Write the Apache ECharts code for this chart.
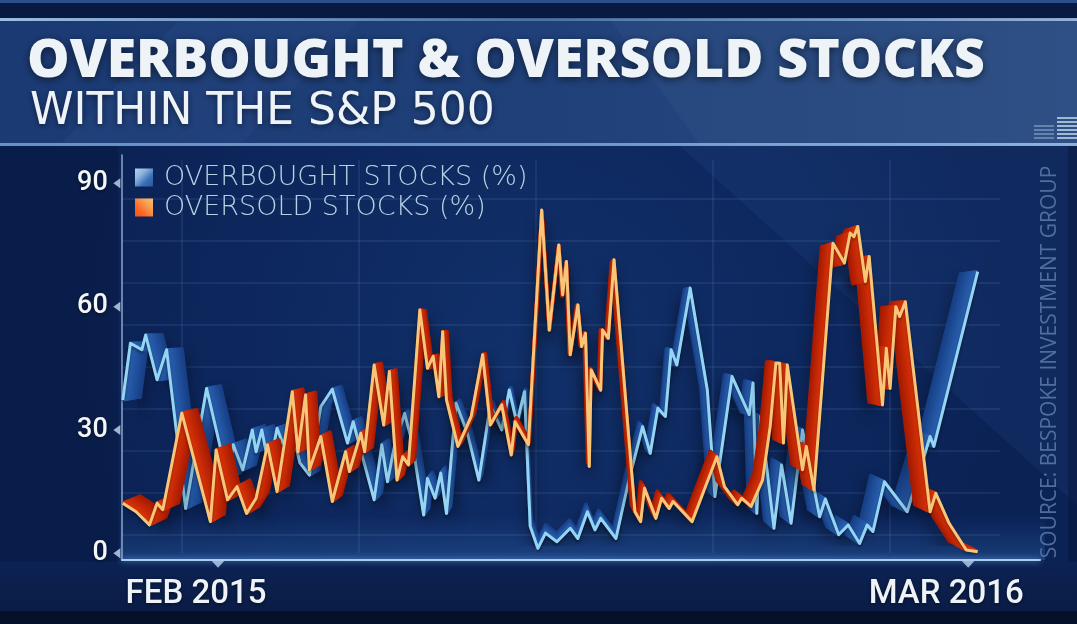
<!DOCTYPE html>
<html><head><meta charset="utf-8">
<script src="https://cdn.jsdelivr.net/npm/echarts@6/dist/echarts.min.js"></script>
<style>html,body{margin:0;padding:0;background:#0c2456;}#c{width:1077px;height:624px;}</style>
</head><body><div id="c"></div>
<script>
// ---------------- DATA ----------------
const titleText = 'OVERBOUGHT & OVERSOLD STOCKS';
const subtitleText = 'WITHIN THE S&P 500';
const seriesNames = ['OVERBOUGHT STOCKS (%)', 'OVERSOLD STOCKS (%)'];
const sourceText = 'SOURCE: BESPOKE INVESTMENT GROUP';
// x = days from 1 Feb 2015
const xTickDays = [0, 394];
const xTickLabels = ['FEB 2015', 'MAR 2016'];
const yTicks = [0, 30, 60, 90];

const obDays = [-50,-46,-40,-38,-32,-27,-17,-6,5,8,13,18,20,23,27,31,34,39,43,48,54,60,68,71,75,82,86,89,93,98,102,108,110,114,117,120,125,131,137,143,149,153,157,161,164,168,172,178,185,189,194,198,201,209,216,223,227,231,235,238,241,248,257,261,270,279,281,283,285,292,296,301,307,316,319,326,331,337,341,344,350,362,374,376,399];
const obVals = [37.3,51.1,49.5,53.1,42.2,49.5,10.9,40.1,18.2,26.4,20.3,30,24.7,30,20.7,30.4,26.8,30,22,19,35.7,39.9,26.8,32,25,13,26.4,17.4,26.8,34,27,9.3,18.2,13.4,19.5,9.7,36.5,29.2,17.8,36,30,39.7,31.6,39.3,6.5,1.2,4.9,2.8,6.1,3.6,10.1,5.7,8.5,3.6,18.2,30.8,24.3,35.3,33.3,49.5,45.8,64.5,39.7,13.8,43,33.7,41.4,9.7,33.3,6.1,21.5,7.3,30,8.9,13.2,4.5,6.9,2.4,6.9,5.3,17.4,10.1,28.4,26,68.5];

const osDays = [-50,-43,-36,-32,-29,-19,-4,-1,5,10,15,20,26,31,39,42,46,48,54,60,67,69,75,77,82,87,90,94,97,100,106,110,113,116,118,120,126,133,139,143,149,154,156,163,170,174,179,181,183,185,189,191,193,195,196,201,202,205,208,219,222,224,230,233,237,239,249,262,266,273,275,280,286,290,293,295,297,299,307,309,313,323,329,332,334,336,340,342,349,351,353,356,358,361,374,377,384,393,399];
const osVals = [12.2,10.1,6.9,12.2,10.6,34.1,7.7,25.1,13,16.2,9.7,13.4,26.4,15,39.3,24.7,38.5,20.3,28.4,12.6,24.7,19.9,29.2,24.7,45.8,31.2,44.2,17.8,23.5,21.5,59.2,45,47.9,38.1,53.9,37.3,26,33.3,48.3,31.2,36.1,23.9,32,26.4,83.5,54.3,75,62.9,71,48.3,60.4,50.3,53.5,21.1,44.6,39.7,54.3,52.3,71.4,10.1,7.7,15.8,8.5,13.4,10.9,12.6,7.7,23.5,16.2,11.8,13.4,11.4,17.8,30.8,46.2,46.2,26.8,45.8,20.3,26,15.4,75.4,70.6,77.9,77,79.5,66.1,72.2,36.1,49.9,40.1,60,57.6,61.2,10.1,14.6,7.3,0.8,0.4];

// ---------------- LAYOUT ----------------
const W = 1077, H = 624;
const X_MIN = -50, X_MAX = 399, Y_MIN = 0, Y_MAX = 90;
const PX_PER_DAY = 1.904, FEB_PX = 218;
const plot = {l: FEB_PX + X_MIN * PX_PER_DAY, r: FEB_PX + X_MAX * PX_PER_DAY, t: 183.3, b: 553.3};
const V = {x: 550, y: 330};       // vanishing point of the 3D extrusion
const DEPTH = 0.04, LAYERS = 12;

const obData = obDays.map((d, i) => [d, obVals[i]]);
const osData = osDays.map((d, i) => [d, osVals[i]]);

const grids = [], xAxes = [], yAxes = [], series = [];
function addGrid(s) {
  const l = V.x + (plot.l - V.x) * s, r = V.x + (plot.r - V.x) * s;
  const t = V.y + (plot.t - V.y) * s, b = V.y + (plot.b - V.y) * s;
  grids.push({left: l, top: t, width: r - l, height: b - t, containLabel: false});
  const idx = grids.length - 1;
  xAxes.push({type: 'value', gridIndex: idx, min: X_MIN, max: X_MAX, show: false});
  yAxes.push({type: 'value', gridIndex: idx, min: Y_MIN, max: Y_MAX, show: false});
  return idx;
}
function lerpColor(a, b, t) {
  const pa = [1,3,5].map(i => parseInt(a.substr(i,2),16));
  const pb = [1,3,5].map(i => parseInt(b.substr(i,2),16));
  return 'rgb(' + pa.map((v,i) => Math.round(v + (pb[i]-v)*t)).join(',') + ')';
}
const hGrad = (c0, c1, c2) => new echarts.graphic.LinearGradient(0, 0, 1, 0, [
  {offset: 0, color: c0}, {offset: 0.5, color: c1}, {offset: 1, color: c2}], true);

// main grid (front face)
const main = addGrid(1);
Object.assign(xAxes[main], {
  show: true,
  axisLine: {show: false}, axisTick: {show: false}, splitLine: {show: false},
  axisLabel: {
    show: true, customValues: xTickDays, margin: 25,
    formatter: v => xTickLabels[xTickDays.indexOf(v)],
    color: '#eef3f7', fontSize: 33, fontWeight: 500, fontFamily: 'Roboto',
    padding: [0, 44, 0, 0],
    textShadowColor: 'rgba(0,0,0,0.5)', textShadowBlur: 4, textShadowOffsetY: 1
  }
});
Object.assign(yAxes[main], {
  show: true,
  axisLine: {show: false}, axisTick: {show: false}, splitLine: {show: false},
  axisLabel: {
    show: true, customValues: yTicks, margin: 15,
    color: '#f4f7fa', fontSize: 27, fontWeight: 500, fontFamily: 'Roboto',
    textShadowColor: 'rgba(0,0,0,0.5)', textShadowBlur: 4, textShadowOffsetY: 1
  }
});

function addRibbon(data, front, back, z) {
  for (let k = LAYERS; k >= 1; k--) {
    const s = 1 - DEPTH * k / LAYERS;
    const gi = addGrid(s);
    const t = k / LAYERS;
    const ls = {width: 3.4, color: lerpColor(front, back, t), join: 'round', cap: 'round'};
    if (k === LAYERS) {
      Object.assign(ls, {shadowColor: 'rgba(0,0,0,0.75)', shadowBlur: 14, shadowOffsetY: 9, width: 4});
    }
    series.push({type: 'line', xAxisIndex: gi, yAxisIndex: gi, data: data, symbol: 'none',
      lineStyle: ls, z: z, silent: true, animation: false});
  }
}

// blue ribbon + front line
addRibbon(obData, '#2a62b2', '#173f86', 2);
series.push({name: seriesNames[0], type: 'line', xAxisIndex: main, yAxisIndex: main, data: obData,
  symbol: 'none', z: 3, silent: true, animation: false,
  lineStyle: {width: 3, join: 'round', color: hGrad('#52b4f2', '#5cbcf3', '#94d4f4'),
    shadowColor: 'rgba(0,0,0,0.45)', shadowBlur: 3, shadowOffsetY: 2}});
// red ribbon + front orange line
addRibbon(osData, '#dc3408', '#a51a02', 4);
series.push({name: seriesNames[1], type: 'line', xAxisIndex: main, yAxisIndex: main, data: osData,
  symbol: 'none', z: 5, silent: true, animation: false,
  lineStyle: {width: 3, join: 'round', color: hGrad('#f5961a', '#f6a62c', '#f9c679'),
    shadowColor: 'rgba(0,0,0,0.35)', shadowBlur: 3, shadowOffsetY: 2}});

// tick triangles on the axes
series.push({type: 'scatter', xAxisIndex: main, yAxisIndex: main, clip: false, silent: true, animation: false,
  data: yTicks.map(v => [X_MIN, v]), symbol: 'triangle', symbolSize: [10, 7], symbolRotate: 90,
  symbolOffset: [-6, 0], itemStyle: {color: '#c5dbee'}, z: 6});
series.push({type: 'scatter', xAxisIndex: main, yAxisIndex: main, clip: false, silent: true, animation: false,
  data: xTickDays.map(d => [d, Y_MIN]), symbol: 'triangle', symbolSize: [13, 7], symbolRotate: 180,
  symbolOffset: [0, 11], itemStyle: {color: '#b8d2ec'}, z: 6});

// frame grid (axis lines)
grids.push({left: 122, top: 155, width: 1040 - 122, height: 560 - 155});
let gi = grids.length - 1;
xAxes.push({type: 'value', gridIndex: gi, min: 0, max: 1, axisLabel: {show: false}, axisTick: {show: false},
  splitLine: {show: false},
  axisLine: {show: true, lineStyle: {color: '#a9cdef', width: 2, shadowColor: 'rgba(120,180,255,0.9)', shadowBlur: 6}}});
yAxes.push({type: 'value', gridIndex: gi, min: 0, max: 1, axisLabel: {show: false}, axisTick: {show: false},
  splitLine: {show: false}, axisLine: {show: true, lineStyle: {color: '#8ea6c6', width: 1.5}}});

// vertical grid lines
grids.push({left: 5, top: 160, width: 1062, height: 553 - 160});
gi = grids.length - 1;
xAxes.push({type: 'value', gridIndex: gi, min: 0, max: 6, interval: 1, axisLabel: {show: false},
  axisTick: {show: false}, axisLine: {show: false},
  splitLine: {show: true, showMinLine: false, showMaxLine: false, lineStyle: {color: 'rgba(120,160,220,0.16)', width: 1.5}}});
yAxes.push({type: 'value', gridIndex: gi, min: 0, max: 1, show: false});

// horizontal grid lines
grids.push({left: 122, top: 156.6, width: 1000 - 122, height: 577 - 156.6});
gi = grids.length - 1;
xAxes.push({type: 'value', gridIndex: gi, min: 0, max: 1, show: false});
yAxes.push({type: 'value', gridIndex: gi, min: 0, max: 10, interval: 1, axisLabel: {show: false},
  axisTick: {show: false}, axisLine: {show: false},
  splitLine: {show: true, showMinLine: false, showMaxLine: false, lineStyle: {color: 'rgba(120,160,220,0.16)', width: 1.5}}});

// ---------------- DECOR ----------------
const LG = (x0, y0, x1, y1, stops) => new echarts.graphic.LinearGradient(x0, y0, x1, y1,
  stops.map((c, i) => ({offset: i / (stops.length - 1), color: c})));
const graphicEls = [
  {type: 'rect', z: -100, silent: true, shape: {x: 0, y: 0, width: W, height: H},
    style: {fill: new echarts.graphic.RadialGradient(0.5, 0.55, 0.75, [
      {offset: 0, color: '#11306a'}, {offset: 1, color: '#0b2255'}])}},
  {type: 'rect', z: -99.5, silent: true, shape: {x: 0, y: 146, width: 118, height: 440},
    style: {fill: 'rgba(5,15,45,0.25)'}},
  {type: 'polygon', z: -99, silent: true, shape: {points: [[680, 146], [1077, 146], [1077, 505]]},
    style: {fill: 'rgba(70,120,200,0.10)'}},
  {type: 'rect', z: -98, silent: true, shape: {x: 120, y: 515, width: 925, height: 45},
    style: {fill: LG(0, 0, 0, 1, ['rgba(60,120,200,0)', 'rgba(60,130,210,0.28)'])}},
  {type: 'rect', z: -98, silent: true, shape: {x: 1068, y: 146, width: 9, height: 440},
    style: {fill: 'rgba(5,15,45,0.35)'}},
  {type: 'rect', z: -97, silent: true, shape: {x: 0, y: 562, width: W, height: 62},
    style: {fill: LG(0, 0, 0, 1, ['#0c2254', '#0b1f4b', '#091a43'])}},
  {type: 'rect', z: -96, silent: true, shape: {x: 0, y: 611, width: W, height: 13}, style: {fill: '#051029'}},
  // top band
  {type: 'rect', z: -96, silent: true, shape: {x: 0, y: 0, width: W, height: 19}, style: {fill: '#081a42'}},
  {type: 'rect', z: -95, silent: true, shape: {x: 0, y: 0, width: W, height: 3}, style: {fill: '#2a4f8a'}},
  // title panel
  {type: 'rect', z: -95, silent: true, shape: {x: 0, y: 19, width: W, height: 126},
    style: {fill: LG(0, 0, 1, 0, ['#1b3a74', '#1f4079', '#2a4b80'])}},
  {type: 'polygon', z: -94, silent: true, shape: {points: [[180, 19], [360, 19], [240, 145], [60, 145]]},
    style: {fill: 'rgba(120,160,220,0.05)'}},
  {type: 'polygon', z: -94, silent: true, shape: {points: [[610, 19], [1077, 19], [1077, 145], [700, 145]]},
    style: {fill: 'rgba(140,170,220,0.06)'}},
  {type: 'rect', z: -93, silent: true, shape: {x: 0, y: 18, width: W, height: 3},
    style: {fill: LG(0, 0, 1, 0, ['rgba(170,205,240,0.9)', 'rgba(120,165,215,0.5)', 'rgba(170,205,240,0.8)'])}},
  {type: 'rect', z: -93, silent: true, shape: {x: 0, y: 143, width: W, height: 3},
    style: {fill: LG(0, 0, 1, 0, ['rgba(110,155,210,0.9)', 'rgba(130,170,220,0.8)', 'rgba(150,190,230,0.9)'])}},
  // small icon at right of title panel
  ...[0, 1, 2, 3, 4, 5].map(i => ({type: 'rect', z: -92, silent: true,
    shape: {x: 1057, y: 117 + i * 4, width: 20, height: 2}, style: {fill: 'rgba(200,220,240,0.75)'}})),
  ...[0, 1, 2, 3].map(i => ({type: 'rect', z: -92, silent: true,
    shape: {x: 1034, y: 125 + i * 4, width: 20, height: 2}, style: {fill: 'rgba(170,195,225,0.45)'}})),
  {type: 'text', z: 10, silent: true, x: 1050, y: 362, rotation: Math.PI / 2,
    style: {text: sourceText, fill: '#4f6e9e', font: '400 21px "Open Sans"', align: 'center', verticalAlign: 'middle'}}
];

const option = {
  backgroundColor: '#0c2456',
  animation: false,
  title: [
    {text: titleText, left: 27, top: 35, padding: 0,
      textStyle: {color: '#eef3f8', fontSize: 53.5, fontWeight: 800, fontFamily: 'Open Sans',
        textShadowColor: 'rgba(0,0,0,0.55)', textShadowBlur: 8, textShadowOffsetY: 2}},
    {text: subtitleText, left: 30, top: 91, padding: 0,
      textStyle: {color: '#eef3f8', fontSize: 44, fontWeight: 400, fontFamily: 'DejaVu Sans',
        textShadowColor: 'rgba(0,0,0,0.5)', textShadowBlur: 6, textShadowOffsetY: 2}}
  ],
  legend: {
    orient: 'vertical', left: 135, top: 164, padding: 0, itemWidth: 18, itemHeight: 18, itemGap: 3,
    icon: 'rect', selectedMode: false,
    textStyle: {color: '#b8d0e3', fontSize: 27, fontWeight: 200, fontFamily: 'DejaVu Sans', padding: [0, 0, 0, 6]},
    data: [
      {name: seriesNames[0], itemStyle: {color: LG(0, 0, 1, 1, ['#b7d3ee', '#8db4de', '#3a70b8', '#24589f'])}},
      {name: seriesNames[1], itemStyle: {color: LG(1, 0, 0, 1, ['#f8c070', '#f6a050', '#ff6a28', '#f5501c'])}}
    ]
  },
  grid: grids, xAxis: xAxes, yAxis: yAxes, series: series,
  graphic: {elements: graphicEls}
};
const chart = echarts.init(document.getElementById('c'), null, {renderer: 'canvas', width: W, height: H});
chart.setOption(option);
</script></body></html>
